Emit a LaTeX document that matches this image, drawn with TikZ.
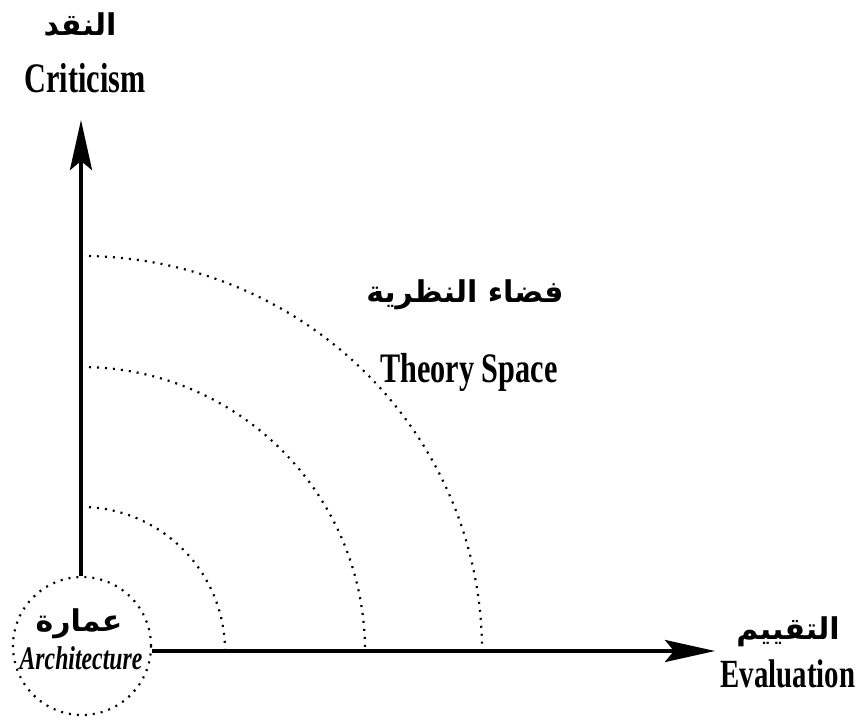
\documentclass[tikz,border=0pt]{standalone}
\usepackage{fontspec}
\usetikzlibrary{arrows.meta}
\TeXXeTstate=1
\newfontfamily\arabicfont[Script=Arabic]{DejaVu Sans}
\newfontfamily\condfont[FakeStretch=0.72]{Liberation Serif}
\tikzset{
  axisline/.style={line width=4pt,-{Stealth[length=50pt,width=22pt,inset=9pt]}},
  dotline/.style={line width=2.2pt,dash pattern=on 2pt off 6pt},
  lat/.style={inner sep=0pt,anchor=base,font=\condfont\bfseries\fontsize{42}{46}\selectfont},
  arab/.style={inner sep=0pt,font=\arabicfont\bfseries\fontsize{30}{34}\selectfont},
}
\begin{document}
\begin{tikzpicture}[x=1pt,y=1pt]
\useasboundingbox (0,0) rectangle (860,726);
% origin of axes
\coordinate (O) at (81,75);
\coordinate (ytip) at (81,606);
\coordinate (xtip) at (715,75);
% theory arcs
\draw[dotline] (81,219) arc[start angle=90,end angle=0,radius=144];
\draw[dotline] (81,359) arc[start angle=90,end angle=0,radius=284];
\draw[dotline] (81,470) arc[start angle=90,end angle=0,x radius=401,y radius=395];
% architecture circle
\node[draw,circle,dotline,minimum size=138pt,inner sep=0pt] (arch) at (82,80) {};
\node[arab] (archar) at (79,102) {\beginR عمارة\endR};
\node[lat,font=\condfont\bfseries\itshape\fontsize{33}{36}\selectfont] (archen) at (81,56) {Architecture};
% axes
\draw[axisline] (arch.north -| ytip) -- (ytip);
\draw[axisline] (arch.east |- xtip) -- (xtip);
% labels
\node[arab] (critar) at (80,701) {\beginR النقد\endR};
\node[lat] (criten) at (85,633) {Criticism};
\node[arab] (theoar) at (465,431) {\beginR فضاء النظرية\endR};
\node[lat] (theoen) at (469,343) {Theory Space};
\node[arab] (evalar) at (788,94) {\beginR التقييم\endR};
\node[lat,font=\condfont\bfseries\fontsize{40}{44}\selectfont] (evalen) at (788,38) {Evaluation};
\end{tikzpicture}
\end{document}
